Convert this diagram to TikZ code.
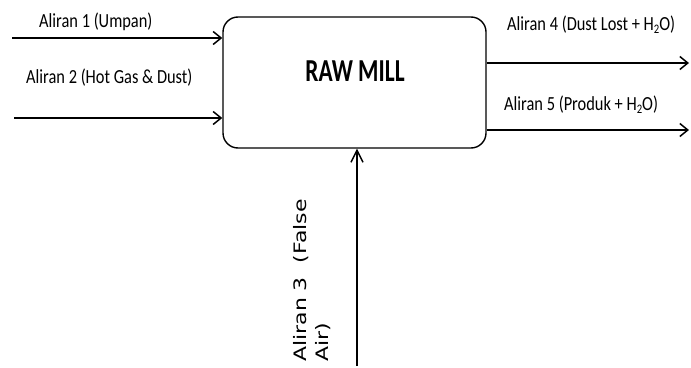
\documentclass[tikz,border=0pt]{standalone}
\usepackage{fontspec}
\usepackage{graphicx}
\setmainfont{Carlito}
\newfontfamily\vfont{DejaVu Sans}
\usetikzlibrary{arrows.meta}
\tikzset{
  arr/.style={line width=1.8pt,-{Straight Barb[length=8pt,width=13pt,line width=1.5pt]}},
  varr/.style={line width=1.4pt,-{Straight Barb[length=12pt,width=12pt,line width=1.4pt]}},
  lab/.style={inner sep=0pt,anchor=base west,font=\fontsize{20}{24}\selectfont},
  boxst/.style={draw,line width=1.4pt,rounded corners=15pt,minimum width=263pt,minimum height=131pt,inner sep=0pt}
}
\newcommand{\sx}[1]{\scalebox{0.82}[1]{#1}}
\newcommand{\hto}{H\raisebox{-3pt}{\fontsize{13}{13}\selectfont 2}O}
\begin{document}
\begin{tikzpicture}[x=1pt,y=-1pt]
\useasboundingbox (0,0) rectangle (691,367);
\node[boxst] (box) at (354.5,82.5) {};
\node[inner sep=0pt,anchor=base,font=\bfseries\fontsize{32}{36}\selectfont] (title) at (355,81) {\scalebox{0.73}[1]{RAW MILL}};
% labels
\node[lab] (l1) at (39,27) {\sx{Aliran 1 (Umpan)}};
\node[lab] (l2) at (26,83) {\sx{Aliran 2 (Hot Gas \& Dust)}};
\node[lab] (l4) at (507,30) {\sx{Aliran 4 (Dust Lost + \hto)}};
\node[lab] (l5) at (504,110) {\sx{Aliran 5 (Produk + \hto)}};
\node[inner sep=0pt,anchor=south west] (l3) at (290,362) {\scalebox{0.78}[1]{\rotatebox{90}{\vfont\fontsize{22}{29}\selectfont\begin{tabular}{@{}l@{}}Aliran 3\ \ (False\\Air)\end{tabular}}}};
% connectors
\coordinate (s1) at (12,38);
\coordinate (s2) at (14,118);
\coordinate (e4) at (689,63);
\coordinate (e5) at (689,130);
\coordinate (s3) at (357,366);
\draw[arr] (s1) -- (s1 -| box.west);
\draw[arr] (s2) -- (s2 -| box.west);
\draw[arr] (e4 -| box.east) -- (e4);
\draw[arr] (e5 -| box.east) -- (e5);
\draw[varr] (s3) -- (s3 |- box.south);
\end{tikzpicture}
\end{document}
